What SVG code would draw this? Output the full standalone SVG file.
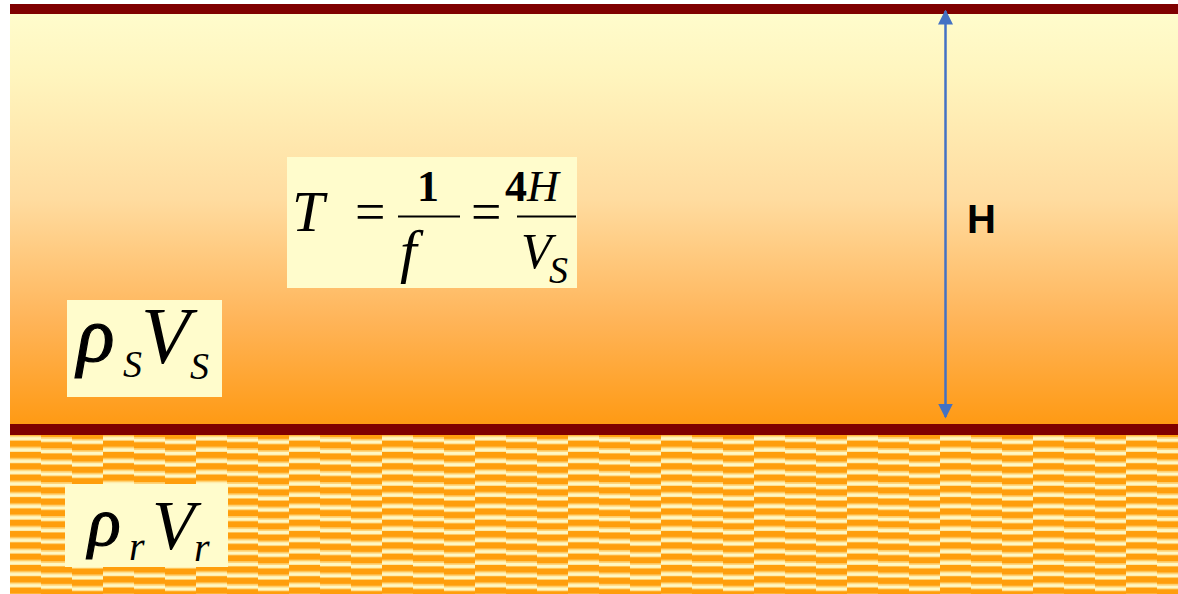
<svg xmlns="http://www.w3.org/2000/svg" width="1178" height="594" viewBox="0 0 1178 594">
  <style>
    .box { fill: #FFFCCC; }
    .m { font-family: "Liberation Serif", "Times New Roman", serif; font-style: italic; fill: #000; }
    .n { font-family: "Liberation Serif", "Times New Roman", serif; fill: #000; }
    .g { stroke: #000; stroke-width: 1.2; }
    .bar { fill: #7F0000; }
    .frac { stroke: #000; stroke-width: 2; }
    .lbl { font-family: "Liberation Sans", Arial, sans-serif; font-weight: bold; font-size: 40px; fill: #000; }
  </style>
  <defs>
    <linearGradient id="soil" x1="0" y1="14" x2="0" y2="424" gradientUnits="userSpaceOnUse">
      <stop offset="0" stop-color="#FFFCCC"/>
      <stop offset="0.15" stop-color="#FFF5BE"/>
      <stop offset="0.45" stop-color="#FFDCA0"/>
      <stop offset="0.75" stop-color="#FFB458"/>
      <stop offset="1" stop-color="#FF9A14"/>
    </linearGradient>
    <pattern id="rock" x="10" y="435" width="93" height="11.3" patternUnits="userSpaceOnUse">
      <rect x="0" y="0" width="93" height="11.3" fill="#FF9E0C"/>
      <rect x="0" y="0.5" width="31" height="1.5" fill="#FFD67A"/>
      <rect x="0" y="2" width="31" height="3.5" fill="#FFF8C4"/>
      <rect x="31" y="2" width="31" height="1.5" fill="#FFD67A"/>
      <rect x="31" y="3.5" width="31" height="3.5" fill="#FFF8C4"/>
      <rect x="62" y="4" width="31" height="1.5" fill="#FFD67A"/>
      <rect x="62" y="5.5" width="31" height="3.5" fill="#FFF8C4"/>
    </pattern>
    <marker id="ah" viewBox="0 0 10 10" refX="9" refY="5" markerWidth="6" markerHeight="7" markerUnits="strokeWidth" orient="auto-start-reverse">
      <path d="M0,0 L10,5 L0,10 Z" fill="#4472C4"/>
    </marker>
  </defs>

  <rect x="0" y="0" width="1178" height="594" fill="#FFFFFF"/>

  <g id="soil-layer">
    <rect x="10" y="14" width="1168" height="411" fill="url(#soil)"/>
  </g>
  <g id="rock-layer">
    <rect x="10" y="435" width="1168" height="159" fill="url(#rock)"/>
  </g>
  <g id="boundaries">
    <rect class="bar" x="10" y="4" width="1168" height="10"/>
    <rect class="bar" x="10" y="424" width="1168" height="11"/>
  </g>

  <g id="connectors">
    <line x1="945.5" y1="417" x2="945.5" y2="11" stroke="#4472C4" stroke-width="2.5" marker-start="url(#ah)" marker-end="url(#ah)"/>
  </g>

  <g id="label-H">
    <text class="lbl" x="967" y="233">H</text>
  </g>

  <g id="formula">
    <rect class="box" x="287" y="157" width="290" height="131"/>
    <text class="m" x="292" y="231" font-size="58">T</text>
    <text class="n" x="355" y="230" font-size="54">=</text>
    <line class="frac" x1="398" y1="216.5" x2="460" y2="216.5"/>
    <text class="n" x="417" y="201" font-size="44" font-weight="bold">1</text>
    <text class="m" x="400" y="271" font-size="60">f</text>
    <text class="n" x="471" y="230" font-size="54">=</text>
    <line class="frac" x1="517" y1="216.5" x2="576" y2="216.5"/>
    <text class="n" x="505" y="201" font-size="44" font-weight="bold">4</text>
    <text class="m" x="527" y="201" font-size="44">H</text>
    <text class="m" x="521" y="268" font-size="50">V</text>
    <text class="m" x="549" y="283" font-size="38">S</text>
  </g>

  <g id="soil-props">
    <rect class="box" x="67" y="300" width="155" height="97"/>
    <text class="m g" x="77" y="361" font-size="78">ρ</text>
    <text class="m" x="123" y="377" font-size="38">S</text>
    <text class="m" x="141" y="363" font-size="80">V</text>
    <text class="m" x="190" y="379" font-size="38">S</text>
  </g>

  <g id="rock-props">
    <rect class="box" x="65" y="484" width="163" height="83"/>
    <text class="m g" x="88" y="545" font-size="68">ρ</text>
    <text class="m" x="129" y="560" font-size="40">r</text>
    <text class="m" x="152" y="549" font-size="70">V</text>
    <text class="m" x="194" y="561" font-size="40">r</text>
  </g>
</svg>
